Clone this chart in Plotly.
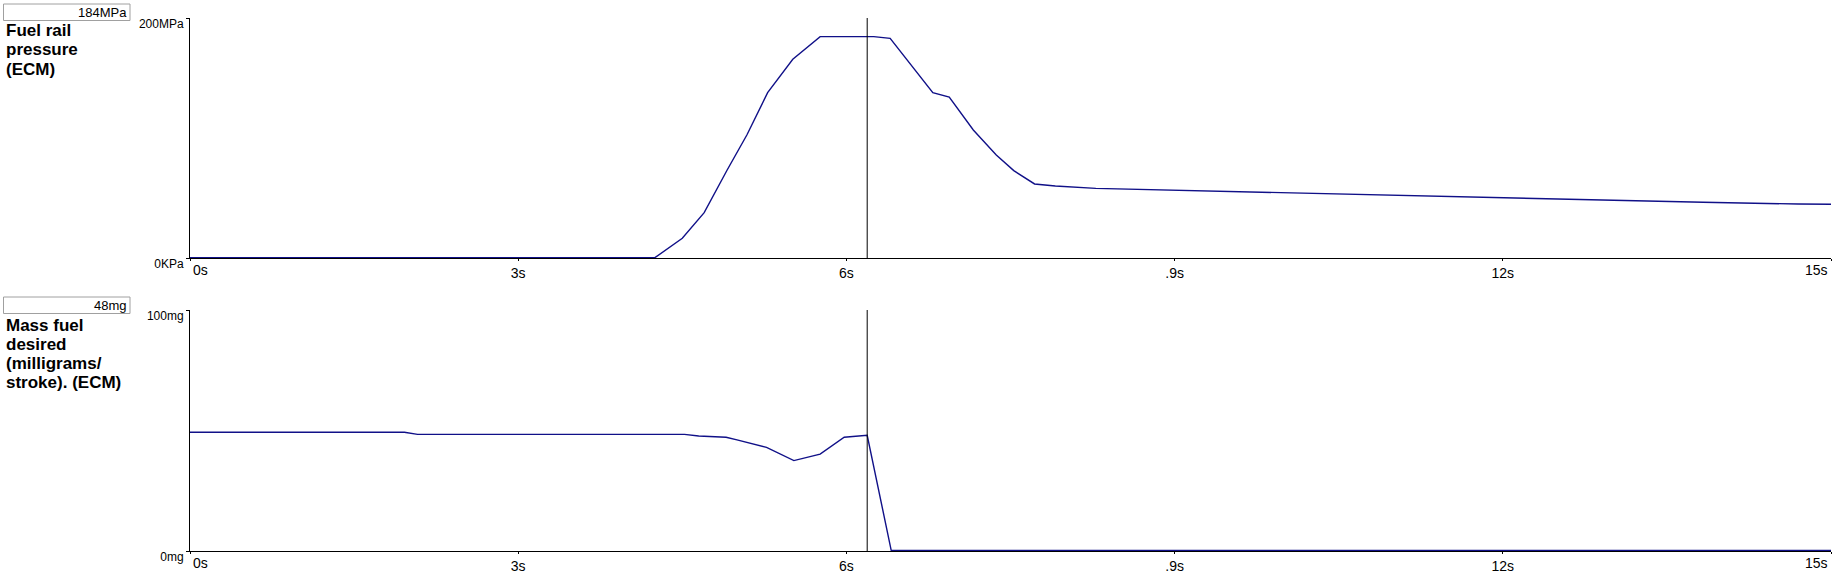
import plotly.graph_objects as go

# ---------------- data ----------------
time_pressure_s = [0, 4.25, 4.50, 4.70, 4.91, 5.09, 5.28, 5.51, 5.76, 6.25, 6.40,
                   6.79, 6.94, 7.16, 7.37, 7.53, 7.72, 7.91, 8.28, 8.67, 9.35, 10.27,
                   11.59, 12.76, 13.83, 14.70, 15.0]
pressure_mpa = [0.3, 0.3, 16.4, 37.8, 73.3, 102.5, 137.8, 165.6, 184.5, 184.5, 183,
                137.8, 134, 106.7, 85.8, 72.8, 61.7, 60, 58, 57.2, 55.6, 53.3,
                50.8, 48.3, 46.4, 45, 44.8]

time_mass_s = [0, 1.96, 2.08, 4.52, 4.65, 4.90, 5.00, 5.27, 5.52, 5.76, 5.98, 6.19, 6.41, 15.0]
mass_mg = [49.3, 49.3, 48.4, 48.4, 47.7, 47.2, 46.1, 43.0, 37.5, 40.2, 47.2, 48.0, 0.2, 0.2]

x_tick_vals = [0, 3, 6, 9, 12, 15]
x_tick_text = ["0s", "3s", "6s", ".9s", "12s", "15s"]

pressure_tick_vals = [0, 200]
pressure_tick_text = ["0KPa", "200MPa"]
mass_tick_vals = [0, 100]
mass_tick_text = ["0mg", "100mg"]

cursor_time_s = 6.19
pressure_readout = "184MPa"
mass_readout = "48mg"
pressure_label_lines = ["Fuel rail", "pressure", "(ECM)"]
mass_label_lines = ["Mass fuel", "desired", "(milligrams/", "stroke). (ECM)"]

# ---------------- layout helpers ----------------
W, H = 1835, 572
FONT = "Arial, 'Liberation Sans', sans-serif"
LINE_COLOR = "#101088"


def px(x):
    return x / W


def py(y):
    return 1 - y / H


x_dom = [px(190), px(1831)]
top_dom = [py(258), py(18)]
bot_dom = [py(551), py(310)]

fig = go.Figure()
fig.add_trace(go.Scatter(x=time_pressure_s, y=pressure_mpa, mode="lines",
                         line=dict(color=LINE_COLOR, width=1.4),
                         xaxis="x", yaxis="y", hoverinfo="skip"))
fig.add_trace(go.Scatter(x=time_mass_s, y=mass_mg, mode="lines",
                         line=dict(color=LINE_COLOR, width=1.4),
                         xaxis="x2", yaxis="y2", hoverinfo="skip"))

mid_text = [t if i not in (0, len(x_tick_text) - 1) else "" for i, t in enumerate(x_tick_text)]

xcommon = dict(range=[0, 15], showline=True, linecolor="black", linewidth=1,
               ticks="outside", ticklen=2, tickcolor="black",
               tickvals=x_tick_vals, ticktext=mid_text,
               tickfont=dict(family=FONT, size=14, color="black"),
               showgrid=False, zeroline=False, layer="below traces", domain=x_dom,
               automargin=False, fixedrange=True)
ycommon = dict(showline=True, linecolor="black", linewidth=1,
               ticks="outside", ticklen=3, tickcolor="black",
               tickfont=dict(family=FONT, size=12, color="black"),
               ticklabelshift=6,
               showgrid=False, zeroline=False, layer="below traces",
               automargin=False, fixedrange=True)

fig.update_layout(
    template="none",
    width=W, height=H,
    margin=dict(l=0, r=0, t=0, b=0, pad=0, autoexpand=False),
    paper_bgcolor="white", plot_bgcolor="white",
    showlegend=False,
    xaxis=dict(anchor="y", **xcommon),
    xaxis2=dict(anchor="y2", **xcommon),
    yaxis=dict(anchor="x", domain=top_dom, range=[0, 200],
               tickvals=pressure_tick_vals, ticktext=pressure_tick_text, **ycommon),
    yaxis2=dict(anchor="x2", domain=bot_dom, range=[0, 100],
                tickvals=mass_tick_vals, ticktext=mass_tick_text, **ycommon),
)

annotations = []
shapes = []

# edge x tick labels (left/right aligned, as in the reference)
for xa, dom in (("x", top_dom), ("x2", bot_dom)):
    annotations.append(dict(x=x_tick_vals[0], xref=xa, y=dom[0] - 2 / H, yref="paper",
                            text=x_tick_text[0], showarrow=False, xanchor="left", yanchor="top",
                            xshift=1, font=dict(family=FONT, size=14, color="black")))
    annotations.append(dict(x=x_tick_vals[-1], xref=xa, y=dom[0] - 2 / H, yref="paper",
                            text=x_tick_text[-1], showarrow=False, xanchor="right", yanchor="top",
                            xshift=-1, font=dict(family=FONT, size=14, color="black")))
    # cursor line
    yref = "y domain" if xa == "x" else "y2 domain"
    shapes.append(dict(type="line", xref=xa, yref=yref, x0=cursor_time_s, x1=cursor_time_s,
                       y0=0, y1=1, line=dict(color="black", width=1)))

# readout boxes
for text, top in ((pressure_readout, 4), (mass_readout, 297)):
    shapes.append(dict(type="rect", xref="paper", yref="paper",
                       x0=px(3.5), x1=px(130), y0=py(top + 16.5), y1=py(top),
                       line=dict(color="#a0a0a0", width=1), fillcolor="white"))
    annotations.append(dict(x=px(128.5), y=py(top + 8.5), xref="paper", yref="paper",
                            text=text, showarrow=False, xanchor="right", yanchor="middle",
                            font=dict(family=FONT, size=13, color="black")))

# series labels
for lines, base0 in ((pressure_label_lines, 37), (mass_label_lines, 331)):
    for i, ln in enumerate(lines):
        baseline = base0 + i * 19
        annotations.append(dict(x=px(4), y=py(baseline - 6), xref="paper", yref="paper",
                                text="<b>%s</b>" % ln, showarrow=False,
                                xanchor="left", yanchor="middle",
                                font=dict(family=FONT, size=17, color="black")))

fig.update_layout(annotations=annotations, shapes=shapes)
fig.write_html("out.html", config={"displayModeBar": False},
               post_script="document.body.style.margin='0';document.body.style.overflow='hidden';")
